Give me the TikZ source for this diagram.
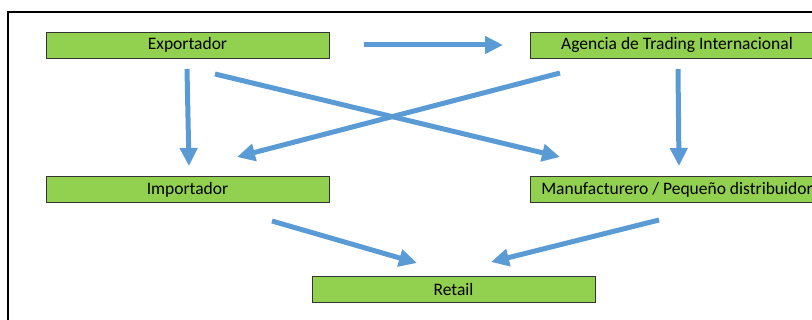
\documentclass[tikz,border=0pt]{standalone}
\usepackage{fontspec}
\setmainfont{Carlito}
\usetikzlibrary{arrows.meta}
\definecolor{boxgreen}{HTML}{92D050}
\definecolor{arrblue}{HTML}{5B9BD5}
\begin{document}
\begin{tikzpicture}[x=1pt,y=-1pt,
  box/.style={draw=black!80, line width=0.9pt, fill=boxgreen, minimum height=26pt, inner sep=0pt, font=\fontsize{17.5}{20}\selectfont, text=black},
  flow/.style={draw=arrblue, line width=5pt, -{Triangle[length=18pt,width=17pt]}}]
\useasboundingbox (0,0) rectangle (812,320);
\clip (0,0) rectangle (812,320);
\draw[line width=2pt] (8,12) rectangle (830,340);
\node[box, minimum width=283pt] (exp) at (187.5,45) {Exportador};
\node[box, minimum width=294pt] (age) at (677,45) {Agencia de Trading Internacional};
\node[box, minimum width=283pt] (imp) at (187.5,189.5) {Importador};
\node[box, minimum width=294pt] (man) at (677,189.5) {Manufacturero / Pequeño distribuidor};
\node[box, minimum width=283pt] (ret) at (453.5,289) {Retail};
% arrow end points
\coordinate (e1) at (364,45);   \coordinate (a1) at (503,45);
\coordinate (e2) at (187,69);   \coordinate (i2) at (189,166);
\coordinate (a3) at (678,69);   \coordinate (m3) at (679,166);
\coordinate (e4) at (215,74);   \coordinate (m4) at (560,157);
\coordinate (a5) at (560,73);   \coordinate (i5) at (237,157);
\coordinate (i6) at (272,221);  \coordinate (r6) at (417,263);
\coordinate (m7) at (659,220);  \coordinate (r7) at (491,262);
\draw[flow] (e1) -- (a1);
\draw[flow] (e2) -- (i2);
\draw[flow] (a3) -- (m3);
\draw[flow] (e4) -- (m4);
\draw[flow] (a5) -- (i5);
\draw[flow] (i6) -- (r6);
\draw[flow] (m7) -- (r7);
\end{tikzpicture}
\end{document}
